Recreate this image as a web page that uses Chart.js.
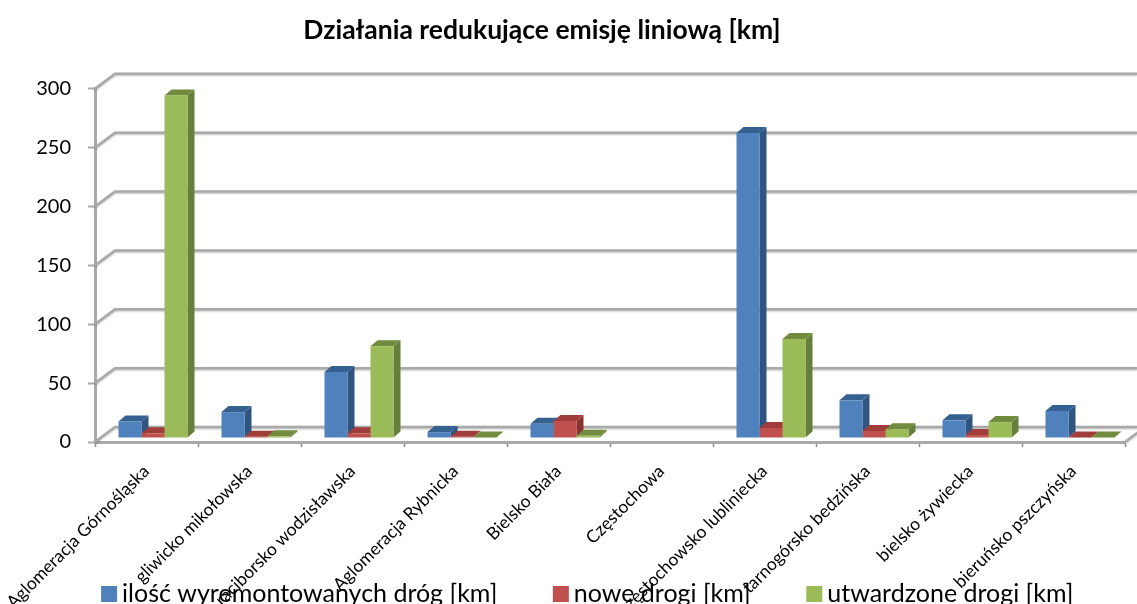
<!DOCTYPE html>
<html>
<head>
<meta charset="utf-8">
<title>Działania redukujące emisję liniową</title>
<script src="https://cdn.jsdelivr.net/npm/chart.js@4"></script>
<style>
html,body{margin:0;padding:0;background:#fff;overflow:hidden;}
#wrap{width:1137px;height:604px;}
</style>
</head>
<body>
<div id="wrap"><canvas id="chart" width="1137" height="604"></canvas></div>
<script>
const chartTitle="Działania redukujące emisję liniową [km]";
const categories=["Aglomeracja Górnośląska","gliwicko mikołowska","raciborsko wodzisławska","Aglomeracja Rybnicka","Bielsko Biała","Częstochowa","częstochowsko lubliniecka","tarnogórsko bedzińska","bielsko żywiecka","bieruńsko pszczyńska"];
const seriesNames=["ilość wyremontowanych dróg [km]","nowe drogi [km]","utwardzone drogi [km]"];
const remonty=[14,22,56,5,12,0,259,32,15,23];
const noweDrogi=[4,1,4,1,14.5,0,8.5,6,2.5,0.5];
const utwardzone=[291,1.5,78,0.5,2,0,84,7.5,13.5,0.5];
const yTicks=[0,50,100,150,200,250,300];

const frontColors=["#4f81bd","#c0504d","#9bbb59"];
const sideColors=["#2f5580","#8a3230","#667f3a"];
const topColors=["#34618f","#a03c39","#718c3f"];
const lineColor="#a9a9a9";

const barShiftX=6.5,barShiftY=-4; // bars stand a bit inside the floor
const depthX=7,depthY=-6;         // thickness of a bar
const wallX=20,wallY=-15;         // back wall offset

function face(ctx,pts,color){
  ctx.fillStyle=color;
  ctx.beginPath();
  pts.forEach((p,i)=>i?ctx.lineTo(p[0],p[1]):ctx.moveTo(p[0],p[1]));
  ctx.closePath();
  ctx.fill();
}

const fake3d={
  id:"fake3d",
  afterLayout(chart){
    // title sits left of the plot centre in the original
    chart.titleBlock.left=303;
    chart.titleBlock.right=781;
    // legend overlaps the long category labels, so it is moved up over the x scale
    chart.legend.left=42;
    chart.legend.right=1140;
    chart.legend.top=518.5;
  },
  beforeDatasetsDraw(chart){
    const ctx=chart.ctx,a=chart.chartArea,y=chart.scales.y;
    ctx.save();
    ctx.strokeStyle=lineColor;
    ctx.lineWidth=2.5;
    ctx.shadowColor="rgba(0,0,0,0.25)";
    ctx.shadowBlur=2;
    ctx.shadowOffsetY=1;
    y.ticks.forEach(t=>{
      let py=y.getPixelForValue(t.value);
      ctx.beginPath();
      ctx.moveTo(a.left,py);
      ctx.lineTo(a.left+wallX,py+wallY);
      ctx.lineTo(chart.width,py+wallY);
      ctx.stroke();
    });
    // floor edge on the right
    ctx.beginPath();
    ctx.moveTo(a.right,a.bottom);
    ctx.lineTo(a.right+wallX,a.bottom+wallY);
    ctx.stroke();
    ctx.restore();

    // shift everything the bars draw, sides and tops first, fronts come from Chart.js
    ctx.save();
    ctx.translate(barShiftX,barShiftY);
    for(let c=0;c<categories.length;c++){
      chart.data.datasets.forEach((ds,i)=>{
        if(!ds.data[c]) return;
        let b=chart.getDatasetMeta(i).data[c];
        let l=b.x-b.width/2,r=b.x+b.width/2;
        face(ctx,[[r,b.y],[r+depthX,b.y+depthY],[r+depthX,b.base+depthY],[r,b.base]],sideColors[i]);
        face(ctx,[[l,b.y],[l+depthX,b.y+depthY],[r+depthX,b.y+depthY],[r,b.y]],topColors[i]);
      });
    }
  },
  afterDatasetsDraw(chart){
    chart.ctx.restore();
  }
};

new Chart(document.getElementById("chart").getContext("2d"),{
  type:"bar",
  data:{
    labels:categories,
    datasets:[
      {label:seriesNames[0],data:remonty,backgroundColor:frontColors[0]},
      {label:seriesNames[1],data:noweDrogi,backgroundColor:frontColors[1]},
      {label:seriesNames[2],data:utwardzone,backgroundColor:frontColors[2]}
    ]
  },
  plugins:[fake3d],
  options:{
    responsive:false,
    animation:false,
    clip:false,
    categoryPercentage:0.67,
    barPercentage:1,
    // negative left gives the legend room for one row, the y scale takes it back
    layout:{padding:{left:-30,right:12,top:0,bottom:-98}},
    scales:{
      x:{
        offset:true,
        afterFit(s){s.height=162;s.paddingLeft=0;s.paddingRight=0;},
        border:{color:lineColor,width:3},
        grid:{offset:true,drawOnChartArea:false,drawTicks:true,tickLength:5,tickColor:"#8c8c8c",tickWidth:1.5},
        ticks:{autoSkip:false,minRotation:45,maxRotation:45,padding:14,color:"#000",font:{family:"Lato",size:17.5}}
      },
      y:{
        min:0,max:300,
        afterFit(s){s.width=125;},
        afterBuildTicks(s){s.ticks=yTicks.map(v=>({value:v}));},
        border:{color:lineColor,width:3},
        grid:{drawOnChartArea:false,drawTicks:true,tickLength:7,tickColor:lineColor,tickWidth:2},
        ticks:{padding:17,color:"#000",font:{family:"Lato",size:20}}
      }
    },
    plugins:{
      title:{display:true,text:chartTitle,color:"#000",font:{family:"Lato",size:26.5,weight:"bold"},padding:{top:15,bottom:42}},
      // small box width + rect point style keeps the square close to its text
      legend:{position:"bottom",labels:{usePointStyle:true,pointStyle:"rect",boxWidth:1,boxHeight:16,padding:63,color:"#000",font:{family:"Lato",size:25}}},
      tooltip:{enabled:false}
    }
  }
});
</script>
</body>
</html>
